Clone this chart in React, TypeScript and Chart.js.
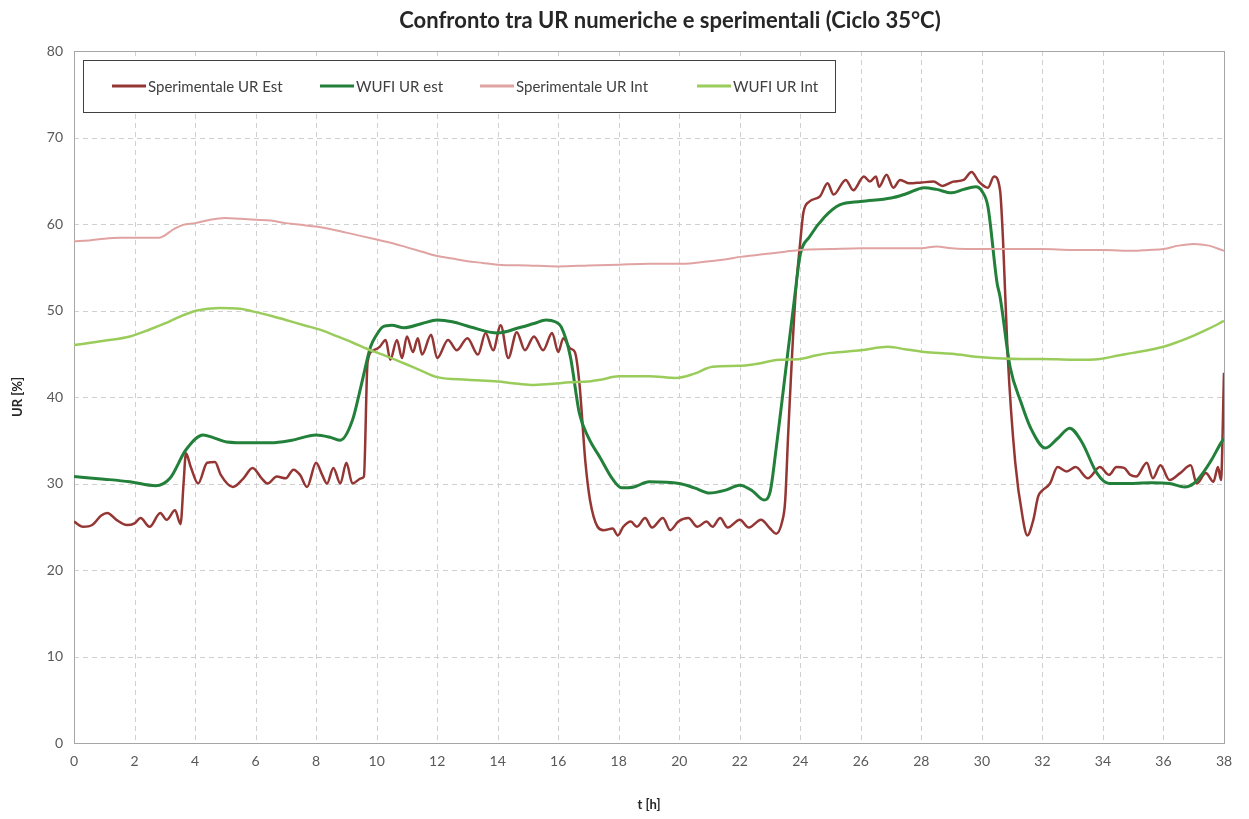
import React, { useEffect, useRef } from "react";
import { Chart, registerables } from "chart.js";

Chart.register(...registerables);

// ---------- data ----------
const TITLE = "Confronto tra UR numeriche e sperimentali (Ciclo 35°C)";
const X_TITLE = "t [h]";
const Y_TITLE = "UR [%]";
const X_TICKS = [0, 2, 4, 6, 8, 10, 12, 14, 16, 18, 20, 22, 24, 26, 28, 30, 32, 34, 36, 38];
const Y_TICKS = [0, 10, 20, 30, 40, 50, 60, 70, 80];
const SERIES_LABELS = ["Sperimentale UR Est", "WUFI UR est", "Sperimentale UR Int", "WUFI UR Int"];

// Sperimentale UR Est
const expEstT = [
  0, 0.3, 0.6, 0.9, 1.1, 1.4, 1.75, 2.0, 2.2, 2.5, 2.85, 3.06, 3.34, 3.52, 3.62, 3.7, 3.85, 4.1, 4.4, 4.66,
  4.85, 5.25, 5.6, 5.9, 6.2, 6.4, 6.7, 7.0, 7.25, 7.47, 7.7, 8.0, 8.2, 8.36, 8.57, 8.8, 9.0, 9.2, 9.5, 9.58,
  9.7, 9.9, 10.1, 10.3, 10.45, 10.67, 10.84, 11.0, 11.2, 11.36, 11.5, 11.8, 12.0, 12.36, 12.65, 13.0, 13.35, 13.6, 13.85, 14.1,
  14.35, 14.63, 14.9, 15.2, 15.5, 15.8, 16.0, 16.17, 16.4, 16.55, 16.7, 16.9, 17.05, 17.3, 17.5, 17.8, 17.97, 18.15, 18.4, 18.6,
  18.87, 19.1, 19.46, 19.7, 19.97, 20.3, 20.6, 20.9, 21.1, 21.35, 21.6, 22.0, 22.3, 22.7, 23.0, 23.2, 23.4, 23.5, 23.6, 23.83,
  24.0, 24.1, 24.3, 24.65, 24.9, 25.1, 25.5, 25.75, 26.1, 26.3, 26.5, 26.6, 26.85, 27.07, 27.3, 27.6, 28.0, 28.4, 28.7, 29.05,
  29.4, 29.66, 29.9, 30.2, 30.4, 30.6, 30.7, 30.85, 31.1, 31.35, 31.5, 31.7, 31.86, 32.0, 32.25, 32.5, 32.8, 33.1, 33.5, 33.9,
  34.2, 34.45, 34.7, 34.9, 35.1, 35.45, 35.65, 35.9, 36.2, 36.55, 36.9, 37.1, 37.4, 37.65, 37.8, 37.9, 38.0,
];
const expEstV = [
  25.6, 25.0, 25.2, 26.3, 26.6, 25.8, 25.2, 25.4, 26.0, 25.0, 26.6, 25.8, 26.9, 25.3, 30.0, 33.5, 32.0, 30.0, 32.4, 32.5,
  31.0, 29.6, 30.6, 31.8, 30.6, 30.0, 30.8, 30.6, 31.6, 31.0, 29.6, 32.4, 31.0, 30.0, 31.8, 30.0, 32.4, 30.0, 30.6, 30.8,
  44.0, 45.4, 45.8, 46.6, 44.3, 46.6, 44.5, 47.0, 45.2, 46.8, 44.9, 47.2, 44.5, 46.6, 45.4, 46.8, 44.9, 47.4, 45.4, 48.3,
  44.5, 47.5, 45.4, 47.0, 45.4, 47.4, 45.2, 46.8, 45.6, 45.2, 41.6, 32.4, 28.1, 25.0, 24.6, 24.8, 24.0, 25.0, 25.6, 25.0,
  26.0, 24.9, 26.0, 24.6, 25.6, 26.0, 25.0, 25.6, 25.0, 26.0, 24.9, 25.8, 24.9, 25.8, 24.8, 24.2, 25.6, 28.0, 35.8, 51.2,
  58.0, 61.3, 62.6, 63.2, 64.7, 63.4, 65.1, 63.9, 65.5, 64.9, 65.5, 64.3, 65.7, 64.2, 65.1, 64.7, 64.8, 64.9, 64.4, 64.9,
  65.1, 66.0, 64.9, 64.2, 65.5, 63.9, 58.0, 45.0, 32.5, 26.0, 24.0, 25.8, 28.5, 29.2, 30.0, 31.9, 31.4, 31.9, 30.6, 31.9,
  31.0, 31.9, 31.8, 31.0, 30.8, 32.4, 30.6, 32.1, 30.4, 31.2, 32.1, 30.0, 31.2, 30.2, 31.9, 30.4, 42.8,
];

// WUFI UR est
const wufiEstT = [
  0, 1, 1.85, 2.7, 3.17, 3.7, 4.27, 4.6, 5.05, 5.8, 6.5, 7.2, 8.0, 8.5, 8.8, 9.2, 9.5, 9.8, 10.0, 10.2,
  10.5, 10.9, 11.5, 12.0, 12.5, 13.1, 14.0, 14.7, 15.2, 15.6, 15.9, 16.1, 16.4, 16.7, 17.0, 17.4, 17.8, 18.1, 18.5, 19.0,
  20.0, 20.5, 21.0, 21.5, 22.0, 22.4, 22.8, 23.0, 23.2, 23.4, 23.6, 23.8, 24.0, 24.3, 24.8, 25.3, 26.0, 27.0, 27.5, 28.1,
  28.5, 29.0, 29.4, 29.8, 30.0, 30.2, 30.5, 30.6, 30.93, 31.3, 31.6, 32.1, 32.5, 32.9, 33.3, 33.8, 34.2, 35.0, 35.6, 36.2,
  36.7, 37.0, 37.3, 37.6, 37.9, 38.0,
];
const wufiEstV = [
  30.8, 30.5, 30.2, 29.75, 30.6, 33.9, 35.6, 35.3, 34.8, 34.7, 34.7, 35.0, 35.6, 35.3, 35.0, 37.3, 41.5, 45.8, 47.2, 48.1,
  48.3, 48.0, 48.5, 48.9, 48.7, 48.1, 47.4, 48.0, 48.5, 48.9, 48.7, 48.1, 44.7, 38.1, 35.3, 32.9, 30.5, 29.5, 29.6, 30.2,
  30.0, 29.5, 28.9, 29.2, 29.8, 29.2, 28.1, 29.0, 34.0, 39.7, 45.5, 51.2, 56.5, 58.5, 60.8, 62.2, 62.6, 63.0, 63.5, 64.2,
  64.0, 63.6, 64.0, 64.3, 63.8, 62.0, 53.2, 51.6, 43.5, 39.3, 36.5, 34.1, 35.2, 36.4, 34.8, 31.2, 30.0, 30.0, 30.1, 30.0,
  29.6, 30.0, 31.2, 32.8, 34.7, 35.2,
];

// Sperimentale UR Int
const expIntT = [
  0, 0.5, 1, 1.5, 2, 2.8, 3.3, 3.6, 4.0, 4.5, 5.0, 5.5, 6.0, 6.5, 7.0, 7.5, 8.0, 8.5, 9.0, 9.5,
  10, 10.5, 11, 11.5, 12, 12.5, 13, 13.5, 14, 15, 16, 17, 18, 19, 20, 20.5, 21, 21.5, 22, 22.5,
  23, 23.5, 24, 25, 26, 27, 28, 28.5, 29, 30, 31, 32, 33, 34, 35, 35.5, 36, 36.5, 37, 37.5, 38,
];
const expIntV = [
  58.0, 58.1, 58.3, 58.4, 58.4, 58.4, 59.4, 59.9, 60.1, 60.5, 60.7, 60.6, 60.5, 60.4, 60.1, 59.9, 59.7, 59.4, 59.0, 58.6,
  58.2, 57.8, 57.3, 56.8, 56.3, 56.0, 55.7, 55.5, 55.3, 55.2, 55.1, 55.2, 55.3, 55.4, 55.4, 55.5, 55.7, 55.9, 56.2, 56.4,
  56.6, 56.8, 57.0, 57.1, 57.2, 57.2, 57.2, 57.4, 57.2, 57.1, 57.1, 57.1, 57.0, 57.0, 56.9, 57.0, 57.1, 57.5, 57.7, 57.5, 56.9,
];

// WUFI UR Int
const wufiIntT = [
  0, 1, 1.85, 2.5, 3, 3.5, 4.06, 4.8, 5.5, 5.9, 6.5, 7, 7.6, 8.2, 8.7, 9.2, 9.8, 10.2, 10.9, 11.5,
  12, 13, 14, 14.5, 15.1, 15.7, 16.4, 17, 17.4, 18, 19, 19.9, 20.5, 21.1, 22, 22.5, 23.3, 24.0, 24.5, 25,
  26, 26.9, 27.5, 28.1, 29, 30, 31.3, 32, 33, 33.9, 34.5, 35, 36, 36.5, 37, 37.5, 38,
];
const wufiIntV = [
  46.0, 46.5, 47.0, 47.8, 48.5, 49.3, 50.0, 50.3, 50.2, 49.9, 49.4, 48.9, 48.3, 47.7, 47.0, 46.3, 45.4, 44.9, 43.9, 43.0,
  42.3, 42.0, 41.8, 41.6, 41.4, 41.5, 41.7, 41.8, 42.0, 42.4, 42.4, 42.2, 42.7, 43.5, 43.6, 43.8, 44.3, 44.4, 44.8, 45.1,
  45.4, 45.8, 45.5, 45.2, 45.0, 44.6, 44.4, 44.4, 44.3, 44.4, 44.8, 45.1, 45.8, 46.4, 47.1, 47.9, 48.8,
];

const SERIES_T = [expEstT, wufiEstT, expIntT, wufiIntT];
const SERIES_V = [expEstV, wufiEstV, expIntV, wufiIntV];

// ---------- styles ----------
const COLORS = ["#943634", "#22803A", "#E0A3A2", "#9ACC5C"];
const WIDTHS = [2.5, 3, 2, 2.5];
const FONT = "Lato, 'Open Sans', sans-serif";

const W = 1249;
const H = 819;

const toPoints = (t: number[], v: number[]) => t.map((x, i) => ({ x, y: v[i] }));

const titlePlugin = {
  id: "excelTitle",
  afterDraw(chart: any) {
    const { ctx } = chart;
    ctx.save();
    ctx.font = `bold 22px ${FONT}`;
    ctx.fillStyle = "#262626";
    ctx.textAlign = "center";
    ctx.textBaseline = "middle";
    ctx.fillText(TITLE, 670, 21);
    ctx.restore();
  },
};

const gridPlugin = {
  id: "excelGrid",
  beforeDatasetsDraw(chart: any) {
    const { ctx, chartArea: a, scales } = chart;
    const xs = scales.x;
    const ys = scales.y;
    ctx.save();
    ctx.strokeStyle = "#D0D0D0";
    ctx.lineWidth = 1;
    ctx.setLineDash([5, 4]);
    for (let i = 1; i < Y_TICKS.length - 1; i++) {
      const py = Math.round(ys.getPixelForValue(Y_TICKS[i])) + 0.5;
      ctx.beginPath();
      ctx.moveTo(a.left, py);
      ctx.lineTo(a.right, py);
      ctx.stroke();
    }
    for (let i = 1; i < X_TICKS.length - 1; i++) {
      const px = Math.round(xs.getPixelForValue(X_TICKS[i])) + 0.5;
      ctx.beginPath();
      ctx.moveTo(px, a.top);
      ctx.lineTo(px, a.bottom);
      ctx.stroke();
    }
    ctx.setLineDash([]);
    ctx.strokeStyle = "#A6A6A6";
    ctx.lineWidth = 1;
    ctx.strokeRect(Math.round(a.left) + 0.5, Math.round(a.top) + 0.5, Math.round(a.right - a.left), Math.round(a.bottom - a.top));
    ctx.restore();
  },
};

const legendPlugin = {
  id: "excelLegend",
  afterDraw(chart: any) {
    const { ctx, chartArea: a } = chart;
    const bx = a.left + 9;
    const by = a.top + 9;
    const bw = 752;
    const bh = 52;
    ctx.save();
    ctx.fillStyle = "#FFFFFF";
    ctx.fillRect(bx, by, bw, bh);
    ctx.strokeStyle = "#404040";
    ctx.lineWidth = 1;
    ctx.strokeRect(Math.round(bx) + 0.5, Math.round(by) + 0.5, bw, bh);
    const offsets = [29, 237, 397, 614];
    const cy = by + bh / 2;
    ctx.font = `15px ${FONT}`;
    ctx.textBaseline = "middle";
    ctx.textAlign = "left";
    SERIES_LABELS.forEach((label, i) => {
      const x0 = bx + offsets[i];
      ctx.strokeStyle = COLORS[i];
      ctx.lineWidth = 3;
      ctx.beginPath();
      ctx.moveTo(x0, cy);
      ctx.lineTo(x0 + 34, cy);
      ctx.stroke();
      ctx.fillStyle = "#404040";
      ctx.fillText(label, x0 + 36, cy + 1);
    });
    ctx.restore();
  },
};

export default function App() {
  const ref = useRef<HTMLCanvasElement>(null);

  useEffect(() => {
    document.body.style.margin = "0";
    const canvas = ref.current;
    if (!canvas) return;
    const chart = new Chart(canvas, {
      type: "line",
      data: {
        datasets: SERIES_LABELS.map((label, i) => ({
          label,
          data: toPoints(SERIES_T[i], SERIES_V[i]),
          borderColor: COLORS[i],
          backgroundColor: COLORS[i],
          borderWidth: WIDTHS[i],
          pointRadius: 0,
          cubicInterpolationMode: "monotone" as const,
          fill: false,
          order: SERIES_LABELS.length - i,
        })),
      },
      options: {
        responsive: false,
        animation: false,
        devicePixelRatio: 1,
        layout: { padding: { left: 0, right: 25, top: 51, bottom: 0 } },
        plugins: {
          legend: { display: false },
          tooltip: { enabled: false },
          title: { display: false },
        },
        scales: {
          x: {
            type: "linear",
            min: 0,
            max: 38,
            afterFit: (s: any) => {
              s.height = 76;
            },
            afterBuildTicks: (s: any) => {
              s.ticks = X_TICKS.map((v) => ({ value: v }));
            },
            grid: { display: false, drawTicks: false },
            border: { display: false },
            ticks: {
              color: "#595959",
              font: { family: FONT, size: 14 },
              padding: 10,
              maxRotation: 0,
              autoSkip: false,
            },
            title: {
              display: true,
              text: X_TITLE,
              color: "#262626",
              font: { family: FONT, size: 13, weight: "bold" },
              padding: { top: 0, bottom: 6 },
            },
          },
          y: {
            type: "linear",
            min: 0,
            max: 80,
            afterFit: (s: any) => {
              s.width = 74;
            },
            afterBuildTicks: (s: any) => {
              s.ticks = Y_TICKS.map((v) => ({ value: v }));
            },
            grid: { display: false, drawTicks: false },
            border: { display: false },
            ticks: {
              color: "#595959",
              font: { family: FONT, size: 14 },
              padding: 11,
            },
            title: {
              display: true,
              text: Y_TITLE,
              color: "#262626",
              font: { family: FONT, size: 13, weight: "bold" },
              padding: { top: 10, bottom: 0 },
            },
          },
        },
      },
      plugins: [gridPlugin, legendPlugin, titlePlugin],
    });
    return () => chart.destroy();
  }, []);

  return (
    <div style={{ position: "absolute", left: 0, top: 0, width: W, height: H, background: "#FFFFFF" }}>
      <canvas ref={ref} width={W} height={H} style={{ display: "block", width: W, height: H }} />
    </div>
  );
}
